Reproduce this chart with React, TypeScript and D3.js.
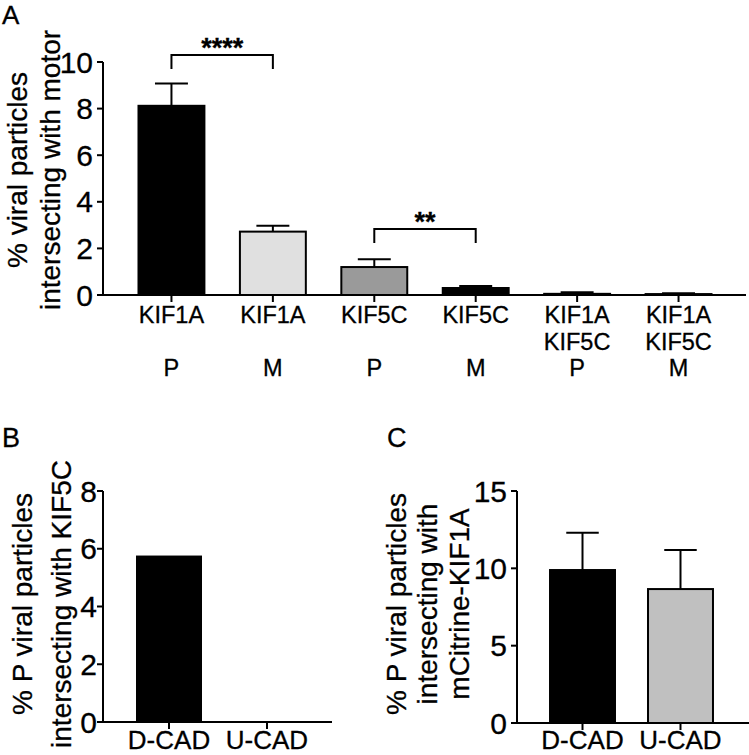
import React, { useEffect, useRef } from 'react';
import * as d3 from 'd3';

// panel A
const motorA = [['KIF1A'], ['KIF1A'], ['KIF5C'], ['KIF5C'], ['KIF1A', 'KIF5C'], ['KIF1A', 'KIF5C']];
const locA = ['P', 'M', 'P', 'M', 'P', 'M'];
const meanA = [8.12, 2.72, 1.2, 0.3, 0.05, 0.04];
const semA = [0.96, 0.25, 0.33, 0.09, 0.07, 0.04];
const fillA = ['#000', '#e0e0e0', '#9a9a9a', '#000', '#000', '#000'];
const ticksA = [0, 2, 4, 6, 8, 10];
const sigA = [
  { from: 0, to: 1, y: 10.3, label: '****' },
  { from: 2, to: 3, y: 2.83, label: '**' }
];

// panel B
const catsB = ['D-CAD', 'U-CAD'];
const meanB = [5.73, 0];
const ticksB = [0, 2, 4, 6, 8];

// panel C
const catsC = ['D-CAD', 'U-CAD'];
const meanC = [9.89, 8.66];
const semC = [2.41, 2.52];
const fillC = ['#000', '#c0c0c0'];
const ticksC = [0, 5, 10, 15];

const FONT = '"Liberation Sans", Arial, Helvetica, sans-serif';

function drawPanel(svg, opt) {
  const g = svg.append('g');
  const x = d3.scaleBand().domain(d3.range(opt.mean.length)).range(opt.xRange).padding(opt.pad);
  const y = d3.scaleLinear().domain(opt.yDomain).range(opt.yRange);
  const x0 = opt.xRange[0];

  // bars
  g.selectAll('rect.bar').data(opt.mean).enter().append('rect')
    .attr('x', (d, i) => x(i))
    .attr('y', d => y(d))
    .attr('width', x.bandwidth())
    .attr('height', d => y(0) - y(d))
    .attr('fill', (d, i) => opt.fill[i])
    .attr('stroke', '#000')
    .attr('stroke-width', d => (d > 0 ? 2 : 0));

  // error bars, upper half only
  if (opt.sem) {
    opt.mean.forEach((m, i) => {
      const cx = x(i) + x.bandwidth() / 2;
      const top = y(m + opt.sem[i]);
      const hw = x.bandwidth() / 4;
      g.append('line').attr('x1', cx).attr('x2', cx).attr('y1', y(m)).attr('y2', top)
        .attr('stroke', '#000').attr('stroke-width', 2);
      g.append('line').attr('x1', cx - hw).attr('x2', cx + hw).attr('y1', top).attr('y2', top)
        .attr('stroke', '#000').attr('stroke-width', 2);
    });
  }

  // y axis
  g.append('line').attr('x1', x0).attr('x2', x0)
    .attr('y1', y(opt.ticks[opt.ticks.length - 1])).attr('y2', y(0))
    .attr('stroke', '#000').attr('stroke-width', 2);
  opt.ticks.forEach(t => {
    g.append('line').attr('x1', x0 - 6).attr('x2', x0).attr('y1', y(t)).attr('y2', y(t))
      .attr('stroke', '#000').attr('stroke-width', 2);
    g.append('text').attr('x', x0 - opt.labGap).attr('y', y(t) + 10.5)
      .attr('text-anchor', 'end').attr('font-size', 30).text(t);
  });

  // x axis
  g.append('line').attr('x1', x0).attr('x2', opt.xEnd).attr('y1', y(0)).attr('y2', y(0))
    .attr('stroke', '#000').attr('stroke-width', 2);
  opt.mean.forEach((m, i) => {
    const cx = x(i) + x.bandwidth() / 2;
    g.append('line').attr('x1', cx).attr('x2', cx).attr('y1', y(0)).attr('y2', y(0) + 7)
      .attr('stroke', '#000').attr('stroke-width', 2);
  });

  // y title
  opt.title.forEach((line, k) => {
    g.append('text')
      .attr('transform', `translate(${opt.titleX[k]},${opt.titleY}) rotate(-90)`)
      .attr('text-anchor', 'middle').attr('font-size', 28).text(line);
  });

  return { g, x, y };
}

export default function App() {
  const ref = useRef(null);

  useEffect(() => {
    const svg = d3.select(ref.current);
    svg.selectAll('*').remove();
    svg.attr('font-family', FONT);

    // A
    const a = drawPanel(svg, {
      mean: meanA, sem: semA, fill: fillA, ticks: ticksA,
      xRange: [103, 747], xEnd: 746, pad: 0.35,
      yDomain: [0, 10], yRange: [295, 62], labGap: 10,
      title: ['% viral particles', 'intersecting with motor'],
      titleX: [27, 60], titleY: 170
    });
    const cxA = i => a.x(i) + a.x.bandwidth() / 2;
    // motor line(s) then P/M under each bar
    motorA.forEach((lines, i) => {
      lines.forEach((t, k) => {
        a.g.append('text').attr('x', cxA(i)).attr('y', 323 + k * 26.5)
          .attr('text-anchor', 'middle').attr('font-size', 23.5).text(t);
      });
      a.g.append('text').attr('x', cxA(i)).attr('y', 376)
        .attr('text-anchor', 'middle').attr('font-size', 23.5).text(locA[i]);
    });
    sigA.forEach(s => {
      const yy = a.y(s.y);
      const x1 = cxA(s.from), x2 = cxA(s.to);
      a.g.append('path')
        .attr('d', d3.line()([[x1, yy + 14], [x1, yy], [x2, yy], [x2, yy + 14]]))
        .attr('fill', 'none').attr('stroke', '#000').attr('stroke-width', 2);
      a.g.append('text').attr('x', (x1 + x2) / 2).attr('y', yy + 2)
        .attr('text-anchor', 'middle').attr('font-size', 27).attr('font-weight', 'bold').text(s.label);
    });
    svg.append('text').attr('x', 2).attr('y', 24).attr('font-size', 26).text('A');

    // B
    const b = drawPanel(svg, {
      mean: meanB, fill: ['#000', '#000'], ticks: ticksB,
      xRange: [103, 333], xEnd: 332, pad: 0.347,
      yDomain: [0, 8], yRange: [722, 491], labGap: 6,
      title: ['% P viral particles', 'intersecting with KIF5C'],
      titleX: [32, 71], titleY: 604
    });
    catsB.forEach((c, i) => {
      b.g.append('text').attr('x', b.x(i) + b.x.bandwidth() / 2).attr('y', 749)
        .attr('text-anchor', 'middle').attr('font-size', 26).text(c);
    });
    svg.append('text').attr('x', 2).attr('y', 447).attr('font-size', 27).text('B');

    // C
    const c = drawPanel(svg, {
      mean: meanC, sem: semC, fill: fillC, ticks: ticksC,
      xRange: [517, 746], xEnd: 749, pad: 0.337,
      yDomain: [0, 15], yRange: [723, 491], labGap: 10,
      title: ['% P viral particles', 'intersecting with', 'mCitrine-KIF1A'],
      titleX: [406, 437, 469], titleY: 604
    });
    catsC.forEach((t, i) => {
      c.g.append('text').attr('x', c.x(i) + c.x.bandwidth() / 2).attr('y', 749)
        .attr('text-anchor', 'middle').attr('font-size', 26).text(t);
    });
    svg.append('text').attr('x', 387).attr('y', 447).attr('font-size', 27).text('C');

    // slightly heavier glyphs, like the scanned figure
    svg.selectAll('text').attr('stroke', '#000').attr('stroke-width', 0.3);
  }, []);

  return (
    <div style={{ position: 'absolute', left: 0, top: 0 }}>
      <svg ref={ref} width="749" height="755" style={{ display: 'block', background: '#fff' }}></svg>
    </div>
  );
}
